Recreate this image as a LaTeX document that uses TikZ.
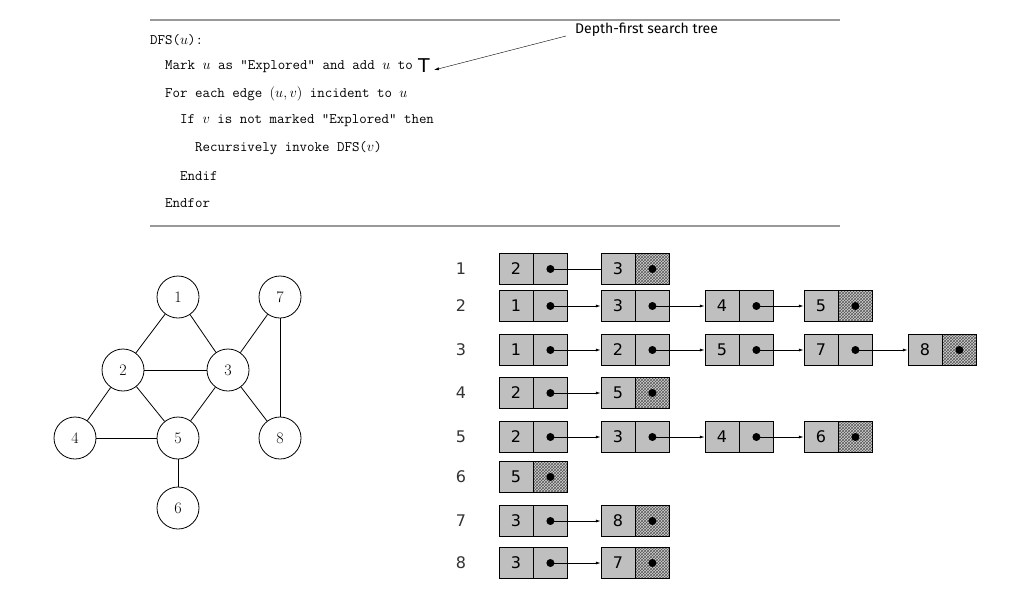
\documentclass[tikz,border=0pt]{standalone}
\usepackage{fontspec}
\newfontfamily\lsans{DejaVu Sans}
\newfontfamily\comic{Fira Sans}
\usetikzlibrary{patterns,arrows.meta}
\begin{document}
\begin{tikzpicture}[x=1pt,y=-1pt,
 vtx/.style={circle,draw,thick,minimum size=42pt,inner sep=0pt,font=\fontsize{16}{16}\selectfont},
 code/.style={anchor=west,font=\ttfamily\fontsize{14.5}{14.5}\selectfont,inner sep=0pt},
 cellbox/.style={draw,fill=gray!50,minimum width=34pt,minimum height=31pt,inner sep=0pt,font=\lsans\fontsize{16}{16}\selectfont},
 lbl/.style={font=\lsans\fontsize{16}{16}\selectfont,text=black!80},
 ptr/.style={-{Latex[length=5pt,width=3pt]},thick}]
\useasboundingbox (0,0) rectangle (1024,605);
\draw[gray!80,line width=2.5pt] (150,20) -- (840,20);
\draw[gray!80,line width=2.5pt] (150,226) -- (840,226);
\node[code] (c1) at (150,40) {DFS($u$):};
\node[code] (c2) at (165,67) {Mark $u$ as "Explored" and add $u$ to};
\node[anchor=west,inner sep=0pt,font=\lsans\fontsize{19}{19}\selectfont] (T) at (418,66) {T};
\node[code] (c3) at (165,94) {For each edge $(u,v)$ incident to $u$};
\node[code] (c4) at (180,121) {If $v$ is not marked "Explored" then};
\node[code] (c5) at (195,148) {Recursively invoke DFS($v$)};
\node[code] (c6) at (180,176) {Endif};
\node[code] (c7) at (165,203) {Endfor};
\node[anchor=west,font=\comic\fontsize{14}{14}\selectfont,inner sep=0pt] (dt) at (575,30) {Depth-first search tree};
\coordinate (ts) at (566,36);
\draw[-{Latex[length=5pt,width=3pt]}] (ts) -- ([xshift=4pt,yshift=-4pt]T.east);
% graph
\foreach \n/\x/\y in {1/178/297,7/280/297,2/123/370,3/228/370,4/75/438,5/178/438,8/280/438,6/178/508}
  \node[vtx] (v\n) at (\x,\y) {\n};
\foreach \a/\b in {1/2,1/3,2/3,2/4,2/5,3/5,3/7,3/8,7/8,4/5,5/6}
  \draw[thick] (v\a) -- (v\b);
% adjacency lists
\def\xs{{516,618,722,821,925}}
\foreach \r/\y/\lst in {1/269/{2,3},2/306/{1,3,4,5},3/350/{1,2,5,7,8},4/393/{2,5},5/437/{2,3,4,6},6/477/{5},7/521/{3,8},8/563/{3,7}}{
  \node[lbl] (r\r) at (461,\y) {\r};
  \foreach \v [count=\i] in \lst {
    \pgfmathsetmacro{\cx}{\xs[\i-1]}
    \node[cellbox] (a\r-\i) at (\cx,\y) {\v};
    \node[cellbox,anchor=west] (p\r-\i) at (a\r-\i.east) {};
    \fill (p\r-\i.center) circle (4pt);
    \xdef\lastn{\i}
  }
  \node[draw,fill=gray!35,minimum width=34pt,minimum height=31pt,inner sep=0pt] at (p\r-\lastn) {};
  \node[draw,minimum width=34pt,minimum height=31pt,inner sep=0pt,pattern=crosshatch,pattern color=gray!70!black] (h\r) at (p\r-\lastn) {};
  \fill (h\r.center) circle (4pt);
  \foreach \v [count=\i] in \lst {
    \ifnum\i<\lastn
      \pgfmathtruncatemacro{\j}{\i+1}
      \ifnum\r=1
        \draw[thick] (p\r-\i.center) -- (a\r-\j.west);
      \else
        \draw[ptr] (p\r-\i.center) -- (a\r-\j.west);
      \fi
    \fi
  }
}
\end{tikzpicture}
\end{document}
